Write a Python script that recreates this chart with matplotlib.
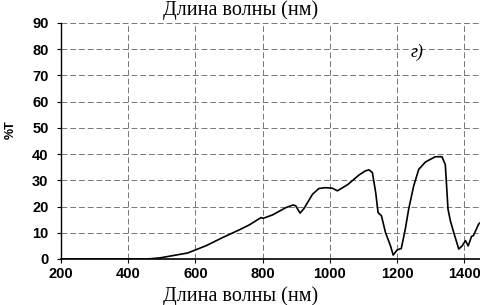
import matplotlib
matplotlib.use("Agg")
import matplotlib.pyplot as plt

wavelength = [200, 300, 400, 455, 493, 533, 577, 632, 681, 730, 760, 795, 801,
              829, 869, 890, 898, 911, 923, 948, 967, 987, 1007, 1022, 1053,
              1086, 1105, 1116, 1126, 1136, 1143, 1153, 1165, 1180, 1188, 1200, 1212,
              1224, 1234, 1249, 1264, 1284, 1313, 1333, 1343, 1351, 1358, 1368,
              1383, 1393, 1403, 1411, 1421, 1427, 1442, 1452]
transmittance = [0, 0, 0, 0, 0.4, 1.3, 2.3, 5.1, 8.2, 11.1, 13.0, 15.8, 15.5,
                 16.8, 19.6, 20.6, 20.3, 17.5, 19.3, 24.7, 26.9, 27.2, 27.0, 26.0, 28.4,
                 32.0, 33.6, 34.0, 33.0, 25.3, 17.7, 16.5, 10.1, 5.0, 1.5, 3.5, 4.0,
                 11.4, 19.0, 27.9, 34.2, 37.0, 39.0, 39.0, 36.0, 19.0, 14.6, 10.1,
                 3.8, 5.0, 7.0, 5.0, 8.6, 9.0, 13.3, 14.5]
x_ticks = [200, 400, 600, 800, 1000, 1200, 1400]
y_ticks = [0, 10, 20, 30, 40, 50, 60, 70, 80, 90]
axis_label = "Длина волны (нм)"
y_label = "%T"
panel_label = "г)"

fig = plt.figure(figsize=(4.81, 3.05), dpi=100)
ax = fig.add_axes([61/481, 1 - 259/305, (481 - 61)/481 + 0.002, (259 - 23)/305])

ax.plot(wavelength, transmittance, color="black", linewidth=1.2, zorder=3)
ax.set_xlim(200, 1452)
ax.set_ylim(0, 90)
ax.set_xticks(x_ticks)
ax.set_yticks(y_ticks)
ax.grid(True, color="#777777", linestyle=(0, (6, 3)), linewidth=0.7)
for s in ["top", "right"]:
    ax.spines[s].set_visible(False)
ax.spines["left"].set_linewidth(1.0)
ax.spines["bottom"].set_linewidth(1.2)
ax.tick_params(axis="both", length=3, width=0.8, labelsize=10.5)
ax.tick_params(axis="y", pad=6)
ax.tick_params(axis="x", pad=3)
for lab in ax.get_xticklabels() + ax.get_yticklabels():
    lab.set_fontweight("bold")
    lab.set_family("Liberation Sans")

fig.text(0.5, 1 - 10/305, axis_label, ha="center", va="center",
         family="Liberation Serif", fontsize=14.5)
fig.text(0.5, 1 - 296/305, axis_label, ha="center", va="center",
         family="Liberation Serif", fontsize=14.5)
fig.text(11/481, 1 - 130/305, y_label, ha="center", va="center", rotation=90,
         family="Liberation Sans", fontweight="bold", fontsize=9)
ax.text(1260, 79, panel_label, ha="center", va="center", family="Liberation Serif",
        style="italic", fontsize=13)

fig.savefig("out.png", dpi=100)
